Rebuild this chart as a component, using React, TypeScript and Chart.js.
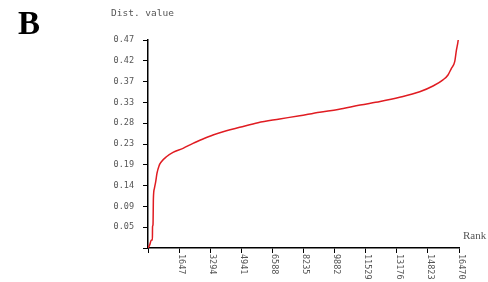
import React, { useEffect, useRef } from "react";
import { Chart, registerables } from "chart.js";

Chart.register(...registerables);

const ranks = [0, 90, 180, 233, 240, 265, 286, 339, 408, 477, 583, 710, 974, 1324, 1854, 2383, 2913, 3442, 4152, 4856, 5826, 6974, 8033, 9092, 10062, 11235, 12294, 13329, 14389, 15093, 15623, 15888, 16068, 16243, 16333, 16400, 16430];
const values = [0, 0.007, 0.018, 0.018, 0.048, 0.052, 0.112, 0.135, 0.15, 0.169, 0.1855, 0.195, 0.2062, 0.2162, 0.2252, 0.2365, 0.2463, 0.2553, 0.2651, 0.2727, 0.2832, 0.2915, 0.299, 0.307, 0.313, 0.323, 0.331, 0.3405, 0.353, 0.366, 0.38, 0.391, 0.406, 0.421, 0.447, 0.462, 0.47];

const xTickLabels = ["", "1647", "3294", "4941", "6588", "8235", "9882", "11529", "13176", "14823", "16470"];
const yTickLabels = ["", "0.05", "0.09", "0.14", "0.19", "0.23", "0.28", "0.33", "0.37", "0.42", "0.47"];

const X_MAX = 16470;
const X_STEP = 1647;
const Y_MAX = 0.47;
const Y_STEP = 0.047;

const MONO = "'DejaVu Sans Mono', 'Liberation Mono', monospace";

const textPlugin = {
  id: "extraText",
  afterDraw(chart: any) {
    const ctx = chart.ctx;
    const xs = chart.scales.x;
    const area = chart.chartArea;
    ctx.save();
    ctx.fillStyle = "#555";
    ctx.font = `8.5px ${MONO}`;
    ctx.textAlign = "left";
    ctx.textBaseline = "middle";
    xs.ticks.forEach((t: any, i: number) => {
      const lbl = xTickLabels[i] || "";
      if (!lbl) return;
      const px = xs.getPixelForValue(t.value);
      ctx.save();
      ctx.translate(px + 2, area.bottom + 6);
      ctx.rotate(Math.PI / 2);
      ctx.fillText(lbl, 0, 0);
      ctx.restore();
    });
    ctx.font = `9.5px ${MONO}`;
    ctx.textBaseline = "middle";
    ctx.textAlign = "left";
    ctx.fillText("Dist. value", 111, 14);
    ctx.font = "11px 'Liberation Serif', serif";
    ctx.fillText("Rank", 463, 236);
    ctx.fillStyle = "#000";
    ctx.font = "bold 33px 'Liberation Serif', serif";
    ctx.textBaseline = "alphabetic";
    ctx.fillText("B", 18, 34);
    ctx.restore();
  },
};

export default function App() {
  const ref = useRef<HTMLCanvasElement>(null);
  useEffect(() => {
    if (!ref.current) return;
    const pts = ranks.map((r, i) => ({ x: r, y: values[i] }));
    const chart = new Chart(ref.current, {
      type: "line",
      data: {
        datasets: [
          {
            data: pts,
            borderColor: "#e01c22",
            borderWidth: 1.5,
            pointRadius: 0,
            fill: false,
            cubicInterpolationMode: "monotone",
          },
        ],
      },
      options: {
        animation: false,
        responsive: false,
        layout: { padding: { top: 40, right: 29, left: 0, bottom: 0 } },
        plugins: { legend: { display: false }, tooltip: { enabled: false } },
        scales: {
          x: {
            type: "linear",
            min: 0,
            max: X_MAX,
            ticks: { stepSize: X_STEP, display: false, autoSkip: false },
            grid: { drawOnChartArea: false, drawTicks: true, tickLength: 5, color: "#000", lineWidth: 1 },
            border: { color: "#000", width: 1.5 },
            afterFit: (s: any) => {
              s.height = 34;
            },
          },
          y: {
            type: "linear",
            min: 0,
            max: Y_MAX,
            ticks: {
              stepSize: Y_STEP,
              autoSkip: false,
              padding: 9,
              color: "#555",
              font: { family: MONO, size: 8.5 },
              callback: (_v: any, i: number) => yTickLabels[i] ?? "",
            },
            grid: { drawOnChartArea: false, drawTicks: true, tickLength: 5, color: "#000", lineWidth: 1 },
            border: { color: "#000", width: 1.5 },
            afterFit: (s: any) => {
              s.width = 148;
            },
          },
        },
      },
      plugins: [textPlugin],
    });
    return () => chart.destroy();
  }, []);
  return (
    <div style={{ position: "fixed", left: 0, top: 0, width: 488, height: 282, background: "#fff" }}>
      <canvas ref={ref} width={488} height={282} />
    </div>
  );
}
